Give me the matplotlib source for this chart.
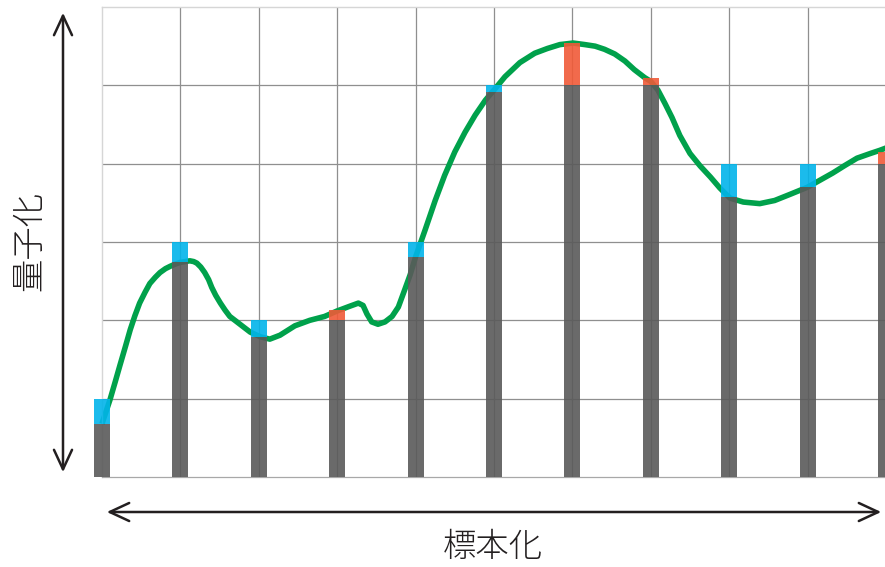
import numpy as np
import matplotlib.pyplot as plt
from matplotlib.patches import FancyArrowPatch, ArrowStyle

plt.rcParams["font.family"] = ["Noto Sans CJK JP", "DejaVu Sans"]

# sampled positions, signal values at the samples, quantized levels
sample_x = [0, 1, 2, 3, 4, 5, 6, 7, 8, 9, 10]
sample_val = [0.68, 2.74, 1.79, 2.13, 2.81, 4.91, 5.54, 5.09, 3.57, 3.70, 4.15]
quant_val = [1, 3, 2, 2, 3, 5, 5, 5, 4, 4, 4]

# analog signal
curve_x = [0.0, 0.10, 0.17, 0.23, 0.30, 0.36, 0.42, 0.48, 0.55, 0.61, 0.68,
           0.74, 0.81, 0.87, 0.94, 1.0, 1.06, 1.12, 1.17, 1.21, 1.26,
           1.31, 1.36, 1.40, 1.45, 1.51, 1.57, 1.63, 1.76, 1.89, 2.02, 2.14,
           2.27, 2.46, 2.65, 2.84, 3.0, 3.16, 3.27, 3.33, 3.38, 3.44, 3.52,
           3.61, 3.70, 3.78, 3.85, 3.93, 4.0, 4.12, 4.25, 4.37, 4.50, 4.63,
           4.76, 4.89, 5.0, 5.14, 5.33, 5.52, 5.68, 5.84, 6.01, 6.16, 6.29,
           6.41, 6.54, 6.67, 6.79, 6.92, 7.0, 7.09, 7.18, 7.27, 7.37, 7.50,
           7.63, 7.76, 7.88, 8.01, 8.18, 8.39, 8.58, 8.78, 9.0, 9.16, 9.32,
           9.48, 9.63, 9.80, 9.92, 10.0]
curve_y = [0.68, 0.98, 1.22, 1.43, 1.67, 1.88, 2.06, 2.22, 2.36, 2.47, 2.55,
           2.61, 2.66, 2.69, 2.72, 2.74, 2.75, 2.76, 2.75, 2.73, 2.68,
           2.61, 2.52, 2.42, 2.32, 2.22, 2.13, 2.05, 1.95, 1.85, 1.79, 1.76,
           1.81, 1.93, 2.00, 2.05, 2.12, 2.18, 2.22, 2.19, 2.08, 1.98, 1.95,
           1.98, 2.05, 2.17, 2.36, 2.58, 2.81, 3.15, 3.53, 3.85, 4.15, 4.40,
           4.62, 4.81, 4.94, 5.11, 5.29, 5.41, 5.47, 5.52, 5.54, 5.52, 5.50,
           5.46, 5.40, 5.31, 5.20, 5.10, 5.05, 4.94, 4.77, 4.59, 4.36, 4.13,
           3.97, 3.83, 3.69, 3.56, 3.51, 3.49, 3.53, 3.61, 3.70, 3.79, 3.88,
           3.98, 4.07, 4.13, 4.17, 4.20]

x_label = "標本化"
y_label = "量子化"

GRAY = "#5a5a5a"
BLUE = "#02b4ea"
ORANGE = "#f05a38"
GREEN = "#00a14b"
INK = "#231f20"

fig = plt.figure(figsize=(8.85, 5.67), dpi=100)
ax = fig.add_axes([102 / 885, 90 / 567, 784 / 885, 470 / 567])
ax.set_xlim(0, 10)
ax.set_ylim(0, 6)

# grid
ax.set_xticks(range(1, 10))
ax.set_yticks(range(1, 6))
ax.tick_params(length=0, labelbottom=False, labelleft=False)
ax.grid(color="#8f8f8f", linewidth=0.9, zorder=0)
ax.set_axisbelow(True)
for side in ["top", "left"]:
    ax.spines[side].set_color("#d6d6d6")
    ax.spines[side].set_linewidth(1.0)
ax.spines["bottom"].set_color("#a8a8a8")
ax.spines["bottom"].set_linewidth(0.9)
ax.spines["right"].set_visible(False)

# analog signal
ax.plot(curve_x, curve_y, color=GREEN, linewidth=4.0, zorder=2,
        solid_capstyle="butt", solid_joinstyle="round", clip_on=False)

# sample bars: gray up to the lower value, colored error segment above
sv = np.array(sample_val)
qv = np.array(quant_val)
low = np.minimum(sv, qv)
err = np.abs(qv - sv)
err_colors = [BLUE if q > s else ORANGE for s, q in zip(sv, qv)]
w = 0.204
ax.bar(sample_x, low, width=w, color=GRAY, alpha=0.9, zorder=3,
       linewidth=0, clip_on=False)
ax.bar(sample_x, err, bottom=low, width=w, color=err_colors, alpha=0.9,
       zorder=3, linewidth=0, clip_on=False)

# double-headed arrows
style = ArrowStyle("<->", head_length=14, head_width=6.5)
v_arrow = FancyArrowPatch((63 / 885, 1 - 475 / 567), (63 / 885, 1 - 10 / 567),
                          transform=fig.transFigure, arrowstyle=style,
                          mutation_scale=1, color=INK, linewidth=1.8)
h_arrow = FancyArrowPatch((104 / 885, 1 - 512 / 567), (884 / 885, 1 - 512 / 567),
                          transform=fig.transFigure, arrowstyle=style,
                          mutation_scale=1, color=INK, linewidth=1.8)
fig.add_artist(v_arrow)
fig.add_artist(h_arrow)

fig.text(30 / 885, 1 - 241 / 567, y_label, rotation=90, ha="center",
         va="center", fontsize=24, color=INK, fontweight="light")
fig.text(493 / 885, 1 - 548 / 567, x_label, ha="center", va="center",
         fontsize=24, color=INK, fontweight="light")

fig.savefig("out.png", dpi=100)
